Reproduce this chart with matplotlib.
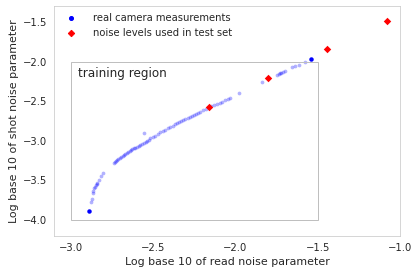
import matplotlib
matplotlib.use("Agg")
import matplotlib.pyplot as plt
import seaborn as sns
from matplotlib.patches import Rectangle
from matplotlib.lines import Line2D

# real camera measurements (log10 read noise, log10 shot noise)
real_read = [-2.873, -2.867, -2.865, -2.861, -2.855, -2.851, -2.847, -2.842, -2.838,
             -2.826, -2.814, -2.800, -2.738, -2.731, -2.724, -2.717, -2.709, -2.700,
             -2.692, -2.684, -2.677, -2.668, -2.659, -2.650, -2.641, -2.632, -2.624,
             -2.616, -2.606, -2.596, -2.586, -2.576, -2.566, -2.556, -2.545, -2.535,
             -2.525, -2.515, -2.500, -2.485, -2.470, -2.455, -2.440, -2.425, -2.410,
             -2.394, -2.380, -2.366, -2.353, -2.340, -2.328, -2.315, -2.303, -2.290,
             -2.278, -2.265, -2.253, -2.240, -2.226, -2.212, -2.198, -2.180, -2.150,
             -2.132, -2.110, -2.095, -2.081, -2.060, -2.045, -2.030, -1.976, -1.838,
             -1.745, -1.738, -1.731, -1.723, -1.710, -1.697, -1.656, -1.640, -1.616,
             -1.576, -2.556]
real_shot = [-3.769, -3.739, -3.663, -3.630, -3.600, -3.578, -3.558, -3.543, -3.530,
             -3.490, -3.444, -3.410, -3.284, -3.272, -3.258, -3.242, -3.229, -3.216,
             -3.203, -3.191, -3.179, -3.166, -3.152, -3.139, -3.125, -3.111, -3.103,
             -3.095, -3.085, -3.073, -3.062, -3.052, -3.042, -3.032, -3.019, -3.006,
             -2.994, -2.969, -2.951, -2.933, -2.914, -2.885, -2.870, -2.858, -2.840,
             -2.822, -2.808, -2.793, -2.779, -2.766, -2.753, -2.741, -2.729, -2.715,
             -2.701, -2.688, -2.674, -2.661, -2.646, -2.632, -2.616, -2.600, -2.566,
             -2.548, -2.530, -2.517, -2.506, -2.490, -2.477, -2.464, -2.400, -2.262,
             -2.167, -2.160, -2.150, -2.140, -2.127, -2.115, -2.072, -2.060, -2.043,
             -2.001, -2.905]

# highlighted (solid) measurements
solid_read = [-2.889, -1.539]
solid_shot = [-3.890, -1.967]

# noise levels used in the test set
test_read = [-1.077, -1.442, -1.804, -2.162]
test_shot = [-1.491, -1.845, -2.211, -2.577]

# training region bounds
train_x = (-3.0, -1.5)
train_y = (-4.0, -2.0)

sns.set_style("whitegrid")
plt.rcParams["axes.grid"] = False
plt.rcParams["font.family"] = ["DejaVu Sans"]

fig = plt.figure(figsize=(419 / 72, 275 / 72), dpi=72)
ax = fig.add_axes([0.129, 0.142, 0.826, 0.836])

ax.scatter(real_read, real_shot, s=14, color="b", alpha=0.3, linewidths=0)
ax.scatter(solid_read, solid_shot, s=20, color="b", linewidths=0)
ax.scatter(test_read, test_shot, s=28, color="r", marker="D", linewidths=0)

ax.add_patch(Rectangle((train_x[0], train_y[0]), train_x[1] - train_x[0],
                       train_y[1] - train_y[0], fill=False, edgecolor="#bfbfbf", lw=1))
ax.text(-2.955, -2.145, "training region", fontsize=12, va="center", color=".15")

ax.set_xlim(-3.1, -1.0)
ax.set_ylim(-4.2, -1.3)
ax.set_xticks([-3.0, -2.5, -2.0, -1.5, -1.0])
ax.set_yticks([-4.0, -3.5, -3.0, -2.5, -2.0, -1.5])
ax.tick_params(labelsize=10)
ax.set_xlabel("Log base 10 of read noise parameter", fontsize=11)
ax.set_ylabel("Log base 10 of shot noise parameter", fontsize=11)

handles = [Line2D([], [], marker="o", color="b", ls="", markersize=4),
           Line2D([], [], marker="D", color="r", ls="", markersize=4.5)]
ax.legend(handles, ["real camera measurements", "noise levels used in test set"],
          loc="upper left", frameon=False, fontsize=10, handletextpad=1.2,
          borderaxespad=0.3)

fig.savefig("out.png", dpi=72)
